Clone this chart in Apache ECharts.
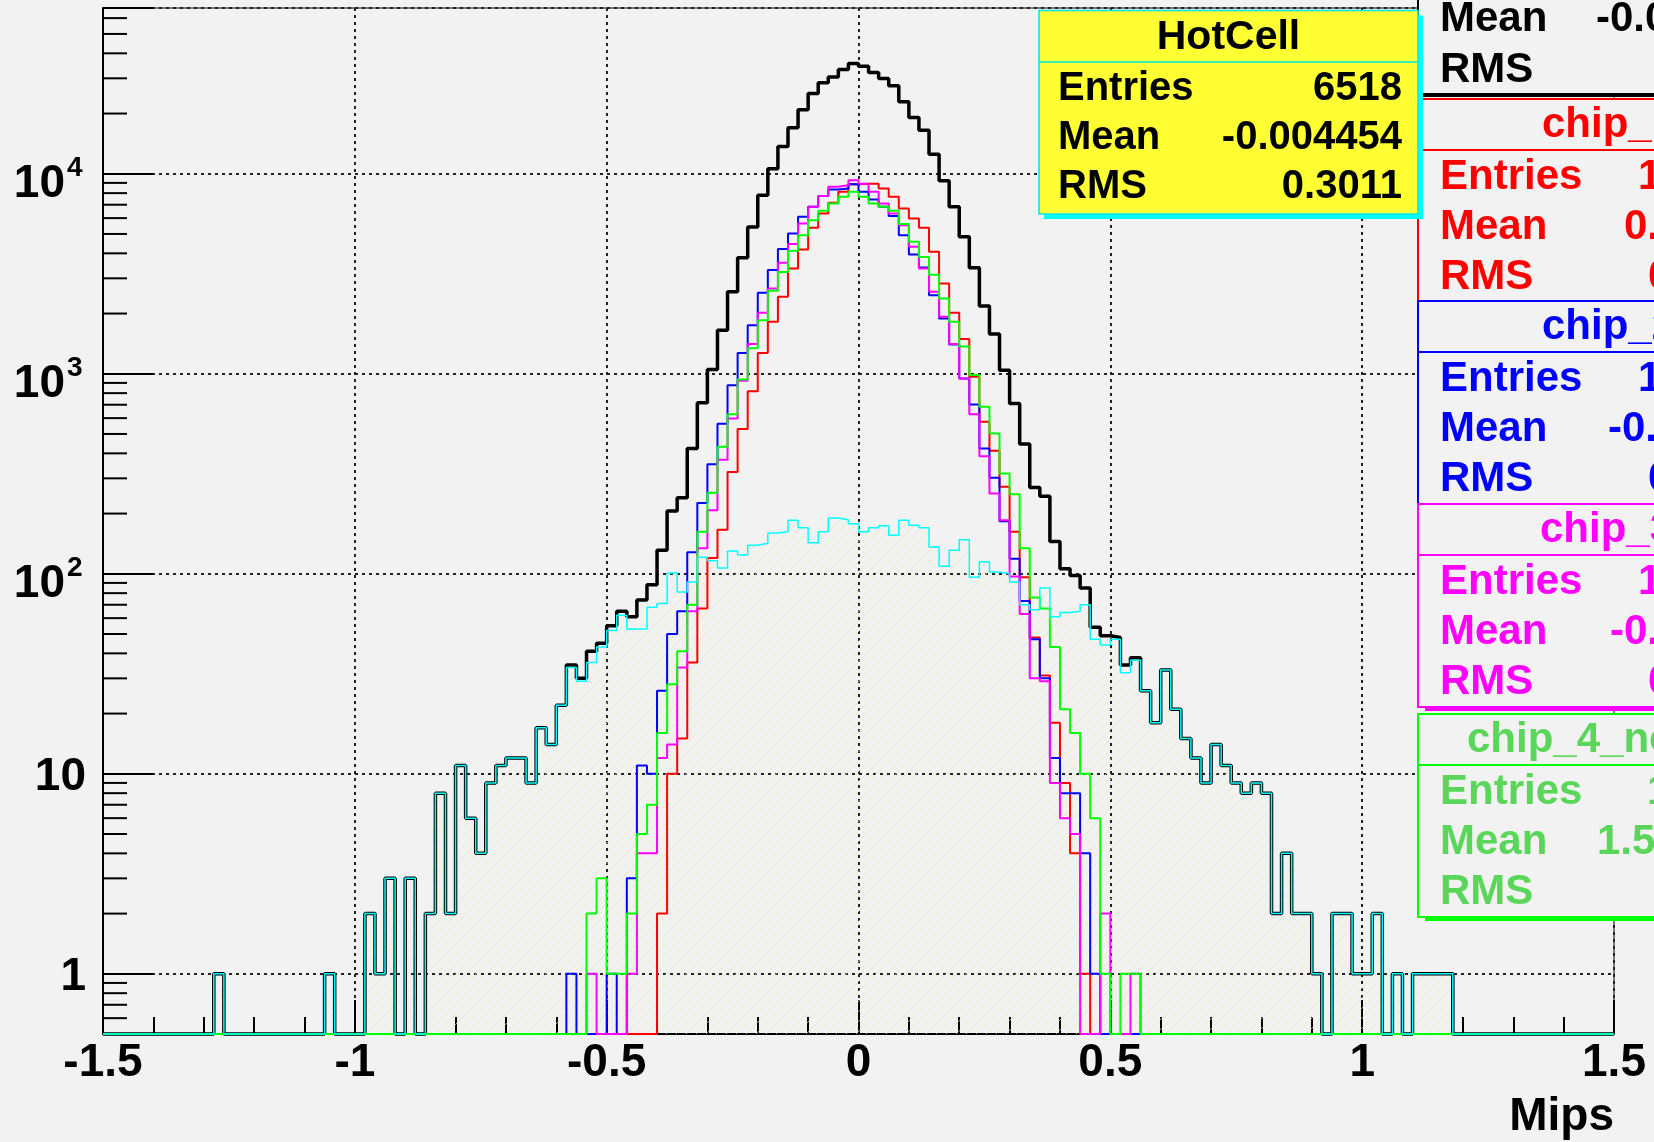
<!DOCTYPE html>
<html>
<head>
<meta charset="utf-8">
<script src="https://cdn.jsdelivr.net/npm/echarts@6.0.0/dist/echarts.min.js"></script>
<style>
  html, body { margin: 0; padding: 0; background: #f2f2f2; }
  #chart { width: 1654px; height: 1142px; }
</style>
</head>
<body>
<div id="chart"></div>
<script>
// Histogram binning: 150 bins of 0.02 Mips between -1.5 and 1.5
const X_MIN = -1.5, X_MAX = 1.5, BIN_WIDTH = 0.02;
const Y_MIN = 0.5, Y_MAX = 67400;

// all channels (black)
const total = [
  0,0,0,0,0,0,0,0,0,0,
  0,1,0,0,0,0,0,0,0,0,
  0,0,1,0,0,0,2,1,3,0,
  3,0,2,8,2,11,6,4,9,11,
  12,12,9,17,14,22,35,30,41,45,
  55,65,61,74,88,131,206,240,423,716,
  1050,1650,2570,3800,5420,7810,10600,13700,17000,20900,
  25200,28500,30500,33200,35600,34500,32100,29900,27500,22900,
  19100,16500,12500,9220,6840,4840,3390,2180,1580,1040,
  710,445,270,244,145,106,98,85,54,49,
  48,35,38,26,18,33,21,15,12,9,
  14,11,9,8,9,8,2,4,2,2,
  1,0,2,2,1,1,2,0,1,0,
  1,1,1,1,0,0,0,0,0,0,
  0,0,0,0,0,0,0,0,0,0
];

// HotCell (cyan, hatched)
const hotCell = [
  0,0,0,0,0,0,0,0,0,0,
  0,1,0,0,0,0,0,0,0,0,
  0,0,1,0,0,0,2,1,3,0,
  3,0,2,8,2,11,6,4,9,11,
  12,12,9,17,14,22,34,29,36,43,
  52,62,53,53,68,71,101,81,91,121,
  116,107,130,124,139,142,160,162,185,170,
  143,162,190,186,178,162,170,174,156,185,
  175,170,136,109,131,148,96,115,102,100,
  91,70,66,85,61,64,65,70,47,44,
  47,32,37,26,18,33,21,15,12,9,
  14,11,9,8,9,8,2,4,2,2,
  1,0,2,2,1,1,2,0,1,0,
  1,1,1,1,0,0,0,0,0,0,
  0,0,0,0,0,0,0,0,0,0
];

// chip_1 (red)
const chip1 = [
  0,0,0,0,0,0,0,0,0,0,
  0,0,0,0,0,0,0,0,0,0,
  0,0,0,0,0,0,0,0,0,0,
  0,0,0,0,0,0,0,0,0,0,
  0,0,0,0,0,0,0,0,0,0,
  0,0,0,0,0,2,10,15,36,67,
  120,166,323,530,818,1270,1820,2430,3360,4180,
  5370,6320,7160,8120,8870,8920,8920,8430,7670,6700,
  5970,5370,4070,2830,2020,1490,966,575,412,272,
  162,96,48,31,18,9,4,1,0,0,
  0,0,0,0,0,0,0,0,0,0,
  0,0,0,0,0,0,0,0,0,0,
  0,0,0,0,0,0,0,0,0,0,
  0,0,0,0,0,0,0,0,0,0,
  0,0,0,0,0,0,0,0,0,0
];

// chip_2 (blue)
const chip2 = [
  0,0,0,0,0,0,0,0,0,0,
  0,0,0,0,0,0,0,0,0,0,
  0,0,0,0,0,0,0,0,0,0,
  0,0,0,0,0,0,0,0,0,0,
  0,0,0,0,0,0,1,0,0,0,
  1,0,3,11,10,26,50,65,128,226,
  353,563,877,1270,1750,2540,3300,4200,5020,6090,
  6840,7730,8340,8430,8870,8120,7430,6840,6150,4930,
  3950,3400,2470,1890,1400,947,701,423,302,183,
  119,73,47,30,12,8,8,4,1,0,
  0,0,0,0,0,0,0,0,0,0,
  0,0,0,0,0,0,0,0,0,0,
  0,0,0,0,0,0,0,0,0,0,
  0,0,0,0,0,0,0,0,0,0,
  0,0,0,0,0,0,0,0,0,0
];

// chip_3 (magenta)
const chip3 = [
  0,0,0,0,0,0,0,0,0,0,
  0,0,0,0,0,0,0,0,0,0,
  0,0,0,0,0,0,0,0,0,0,
  0,0,0,0,0,0,0,0,0,0,
  0,0,0,0,0,0,0,0,1,0,
  0,0,1,4,4,12,14,34,65,134,
  208,372,597,922,1410,2020,2670,3590,4450,5640,
  6840,7730,8610,8770,9290,8920,8120,7100,6320,5530,
  4310,3360,2570,1930,1410,947,628,387,252,185,
  97,63,30,29,9,6,5,0,0,2,
  0,0,1,0,0,0,0,0,0,0,
  0,0,0,0,0,0,0,0,0,0,
  0,0,0,0,0,0,0,0,0,0,
  0,0,0,0,0,0,0,0,0,0,
  0,0,0,0,0,0,0,0,0,0
];

// chip_4 (green)
const chip4 = [
  0,0,0,0,0,0,0,0,0,0,
  0,0,0,0,0,0,0,0,0,0,
  0,0,0,0,0,0,0,0,0,0,
  0,0,0,0,0,0,0,0,0,0,
  0,0,0,0,0,0,0,0,2,3,
  1,1,2,5,7,16,28,41,70,162,
  254,431,628,935,1340,1850,2600,3230,4120,4930,
  5860,6530,7100,7670,8120,7670,7100,6840,6530,5600,
  4570,3840,3130,2380,1820,1370,985,684,502,317,
  250,134,76,67,43,21,16,10,6,1,
  0,1,1,0,0,0,0,0,0,0,
  0,0,0,0,0,0,0,0,0,0,
  0,0,0,0,0,0,0,0,0,0,
  0,0,0,0,0,0,0,0,0,0,
  0,0,0,0,0,0,0,0,0,0
];

// y axis decade labels
const yDecadeTicks = [1, 10, 100, 1000, 10000];

// statistics boxes
const hotCellStats = { title: 'HotCell', rows: [['Entries', '6518'], ['Mean', '-0.004454'], ['RMS', '0.3011']] };
const totalStats = { rows: [['Mean', '-0.0'], ['RMS', '']] };
const chipStats = [
  { title: 'chip_1_noise', rows: [['Entries', '1'], ['Mean', '0.'], ['RMS', '0']] },
  { title: 'chip_2_noise', rows: [['Entries', '1'], ['Mean', '-0.'], ['RMS', '0']] },
  { title: 'chip_3_noise', rows: [['Entries', '1'], ['Mean', '-0.'], ['RMS', '0']] },
  { title: 'chip_4_noise', rows: [['Entries', '1'], ['Mean', '1.5'], ['RMS', '']] }
];

const FONT = '"Liberation Sans", Arial, Helvetica, sans-serif';

// y minor ticks at 2..9 x 10^n inside the axis range
const yMinorTicks = [];
for (let e = -1; e <= 4; e++) {
  for (let m = 2; m <= 9; m++) {
    const v = m * Math.pow(10, e);
    if (v > Y_MIN && v < Y_MAX) yMinorTicks.push(v);
  }
}

// histogram -> step polyline points (left bin edges + closing edge), empty bins sit on the frame bottom
function histPoints(counts) {
  const pts = counts.map((v, i) => [X_MIN + i * BIN_WIDTH, Math.max(v, Y_MIN)]);
  pts.push([X_MAX, Math.max(counts[counts.length - 1], Y_MIN)]);
  return pts;
}

// pale diagonal hatch for the HotCell fill
function hatchPattern() {
  const c = document.createElement('canvas');
  c.width = 10; c.height = 10;
  const g = c.getContext('2d');
  g.strokeStyle = 'rgba(232,232,175,0.7)';
  g.lineWidth = 1;
  g.beginPath();
  g.moveTo(-1, 11); g.lineTo(11, -1);
  g.moveTo(-6, 6); g.lineTo(6, -6);
  g.moveTo(4, 16); g.lineTo(16, 4);
  g.stroke();
  return c;
}

function stepSeries(name, counts, color, width, z) {
  return {
    name, type: 'line', step: 'end', data: histPoints(counts),
    symbol: 'none', clip: false, z,
    lineStyle: { color, width },
    emphasis: { disabled: true }
  };
}

function text(x, y, s, color, size, align) {
  return {
    type: 'text', x, y, z: 100, silent: true,
    style: {
      text: s, fill: color, font: `bold ${size}px ${FONT}`,
      textAlign: align || 'left', align: align || 'left',
      textVerticalAlign: 'middle', verticalAlign: 'middle'
    }
  };
}
function rect(x, y, w, h, fill, stroke, lw, z) {
  return { type: 'rect', z, silent: true, shape: { x, y, width: w, height: h },
    style: { fill, stroke: stroke || null, lineWidth: lw || 0 } };
}
function hline(x1, x2, y, color, lw, z) {
  return { type: 'line', z, silent: true, shape: { x1, y1: y, x2, y2: y },
    style: { stroke: color, lineWidth: lw } };
}

const graphics = [];

// HotCell box
(function () {
  const x = 1039, y = 10.5, w = 379, h = 203.5;
  graphics.push(rect(x + 5, y + 5, w, h, '#00ffff', null, 0, 90));
  graphics.push(rect(x, y, w, h, '#ffff33', '#00e5e5', 1.5, 91));
  graphics.push(hline(x, x + w, 62, '#00e5e5', 1.5, 92));
  graphics.push(text(x + w / 2, 38, hotCellStats.title, '#000', 41, 'center'));
  const rowY = [89, 138, 187];
  hotCellStats.rows.forEach((r, i) => {
    graphics.push(text(1058, rowY[i], r[0], '#000', 40, 'left'));
    graphics.push(text(1402, rowY[i], r[1], '#000', 40, 'right'));
  });
})();

// total box (top right, mostly outside the canvas)
(function () {
  graphics.push(rect(1421, -57, 400, 154, '#000', null, 0, 80));
  graphics.push(rect(1418, -60, 400, 154, '#f2f2f2', '#000', 2, 81));
  graphics.push(text(1440, 19, totalStats.rows[0][0], '#000', 42, 'left'));
  graphics.push(text(1596, 19, totalStats.rows[0][1], '#000', 42, 'left'));
  graphics.push(text(1440, 70, totalStats.rows[1][0], '#000', 42, 'left'));
})();

// chip boxes
(function () {
  const tops = [99, 301, 504, 714];
  const borders = ['#ff0000', '#0000ff', '#ff00ff', '#00ff00'];
  const inks = ['#ff0000', '#0000ff', '#ff00ff', '#5ad65a'];
  const shadows = [false, false, true, true];
  const titleX = [1542, 1542, 1540, 1467];
  const valX = [[1638, 1624, 1648], [1638, 1608, 1648], [1638, 1610, 1648], [1647, 1597, 1660]];
  chipStats.forEach((b, i) => {
    const t = tops[i], h = 203, z = 82 + i * 4;
    if (shadows[i]) graphics.push(rect(1425, t + 4, 400, h, borders[i], null, 0, z));
    graphics.push(rect(1418, t, 400, h, '#f2f2f2', borders[i], 2, z + 1));
    graphics.push(hline(1418, 1820, t + 51, borders[i], 2, z + 2));
    graphics.push(text(titleX[i], t + 26, b.title, inks[i], 42, 'left'));
    b.rows.forEach((r, j) => {
      const ry = t + 78 + j * 50;
      graphics.push(text(1440, ry, r[0], inks[i], 42, 'left'));
      if (r[1]) graphics.push(text(valX[i][j], ry, r[1], inks[i], 42, 'left'));
    });
  });
})();

// x axis title
graphics.push(text(1614, 1117, 'Mips', '#000', 46, 'right'));

const chart = echarts.init(document.getElementById('chart'), null, { renderer: 'canvas' });

const dotted = { color: '#222', width: 2, type: [3, 4] };

chart.setOption({
  backgroundColor: '#f2f2f2',
  animation: false,
  grid: { left: 103, top: 8, width: 1511, height: 1026, show: true, borderColor: '#000', borderWidth: 1, backgroundColor: 'transparent' },
  xAxis: {
    type: 'value', min: X_MIN, max: X_MAX, interval: 0.5,
    axisLine: { onZero: false, lineStyle: { color: '#000', width: 2 } },
    axisTick: { show: true, inside: true, length: 34, lineStyle: { color: '#000', width: 2 } },
    minorTick: { show: true, splitNumber: 5, length: 17, lineStyle: { color: '#000', width: 2 } },
    splitLine: { show: true, lineStyle: dotted },
    axisLabel: { show: true, color: '#000', fontFamily: FONT, fontWeight: 'bold', fontSize: 46, margin: 6, showMinLabel: true, showMaxLabel: true }
  },
  yAxis: {
    type: 'log', logBase: 10, min: Y_MIN, max: Y_MAX,
    axisLine: { show: true, onZero: false, lineStyle: { color: '#000', width: 2 } },
    axisTick: { show: true, inside: true, length: 50, lineStyle: { color: '#000', width: 2 } },
    splitLine: { show: true, lineStyle: dotted },
    axisLabel: { show: false }
  },
  graphic: graphics,
  series: [
    // hatched fill under the HotCell histogram
    {
      name: 'HotCell fill', type: 'line', step: 'end', data: histPoints(hotCell),
      symbol: 'none', clip: false, z: 1,
      lineStyle: { width: 0, opacity: 0 },
      areaStyle: { color: { image: hatchPattern(), repeat: 'repeat' }, origin: 'start', opacity: 1 }
    },
    stepSeries('total', total, '#000000', 3.5, 3),
    stepSeries('chip_1', chip1, '#ff0000', 2, 4),
    stepSeries('chip_2', chip2, '#0000ff', 2, 4),
    stepSeries('chip_3', chip3, '#ff00ff', 2, 4),
    stepSeries('chip_4', chip4, '#00ff00', 2, 4),
    stepSeries('HotCell', hotCell, '#00ffff', 1.5, 5),
    // minor ticks on the log axis
    {
      type: 'custom', name: 'y minor ticks', coordinateSystem: 'cartesian2d', silent: true, clip: false, z: 6,
      data: yMinorTicks.map(v => [X_MIN, v]),
      renderItem: (params, api) => {
        const p = api.coord([api.value(0), api.value(1)]);
        return { type: 'line', shape: { x1: p[0], y1: p[1], x2: p[0] + 24, y2: p[1] }, style: { stroke: '#000', lineWidth: 2 } };
      }
    },
    // decade labels: 1, 10, 10^2 ...
    {
      type: 'custom', name: 'y labels', coordinateSystem: 'cartesian2d', silent: true, clip: false, z: 6,
      data: yDecadeTicks.map(v => [X_MIN, v]),
      renderItem: (params, api) => {
        const v = api.value(1);
        const p = api.coord([api.value(0), v]);
        const exp = Math.round(Math.log10(v));
        const st = (s, size, align) => ({ text: s, fill: '#000', font: `bold ${size}px ${FONT}`, textAlign: align, align: align, textVerticalAlign: 'middle', verticalAlign: 'middle' });
        if (exp < 2) {
          return { type: 'text', x: p[0] - 17, y: p[1] + 4, style: st(String(v), 46, 'right') };
        }
        return {
          type: 'group', children: [
            { type: 'text', x: p[0] - 38, y: p[1] + 11, style: st('10', 46, 'right') },
            { type: 'text', x: p[0] - 36, y: p[1] - 5, style: st(String(exp), 28, 'left') }
          ]
        };
      }
    }
  ]
});
</script>
</body>
</html>
